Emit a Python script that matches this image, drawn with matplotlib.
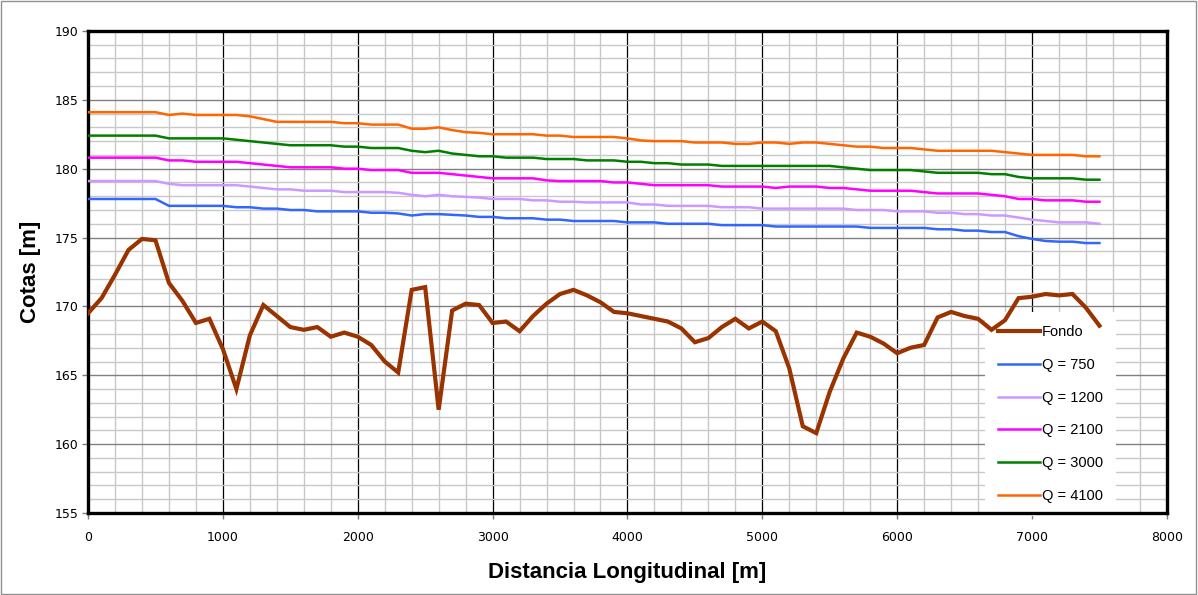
import matplotlib
matplotlib.use("Agg")
import matplotlib.pyplot as plt
from matplotlib.ticker import MultipleLocator
from matplotlib.patches import Rectangle

distancia = [
    0, 100, 200, 300, 400, 500, 600, 700, 800, 900,
    1000, 1100, 1200, 1300, 1400, 1500, 1600, 1700, 1800, 1900,
    2000, 2100, 2200, 2300, 2400, 2500, 2600, 2700, 2800, 2900,
    3000, 3100, 3200, 3300, 3400, 3500, 3600, 3700, 3800, 3900,
    4000, 4100, 4200, 4300, 4400, 4500, 4600, 4700, 4800, 4900,
    5000, 5100, 5200, 5300, 5400, 5500, 5600, 5700, 5800, 5900,
    6000, 6100, 6200, 6300, 6400, 6500, 6600, 6700, 6800, 6900,
    7000, 7100, 7200, 7300, 7400, 7500]

fondo = [
    169.5, 170.6, 172.3, 174.1, 174.9, 174.8, 171.7, 170.4, 168.8, 169.1,
    166.9, 164.0, 167.9, 170.1, 169.3, 168.5, 168.3, 168.5, 167.8, 168.1,
    167.8, 167.2, 166.0, 165.2, 171.2, 171.4, 162.5, 169.7, 170.2, 170.1,
    168.8, 168.9, 168.2, 169.3, 170.2, 170.9, 171.2, 170.8, 170.3, 169.6,
    169.5, 169.3, 169.1, 168.9, 168.4, 167.4, 167.7, 168.5, 169.1, 168.4,
    168.9, 168.2, 165.5, 161.3, 160.8, 163.8, 166.2, 168.1, 167.8, 167.3,
    166.6, 167.0, 167.2, 169.2, 169.6, 169.3, 169.1, 168.3, 169.0, 170.6,
    170.7, 170.9, 170.8, 170.9, 169.9, 168.6]

q750 = [
    177.8, 177.8, 177.8, 177.8, 177.8, 177.8, 177.3, 177.3, 177.3, 177.3,
    177.3, 177.2, 177.2, 177.1, 177.1, 177.0, 177.0, 176.9, 176.9, 176.9,
    176.9, 176.8, 176.8, 176.75, 176.6, 176.7, 176.7, 176.65, 176.6, 176.5,
    176.5, 176.4, 176.4, 176.4, 176.3, 176.3, 176.2, 176.2, 176.2, 176.2,
    176.1, 176.1, 176.1, 176.0, 176.0, 176.0, 176.0, 175.9, 175.9, 175.9,
    175.9, 175.8, 175.8, 175.8, 175.8, 175.8, 175.8, 175.8, 175.7, 175.7,
    175.7, 175.7, 175.7, 175.6, 175.6, 175.5, 175.5, 175.4, 175.4, 175.1,
    174.9, 174.75, 174.7, 174.7, 174.6, 174.6]

q1200 = [
    179.1, 179.1, 179.1, 179.1, 179.1, 179.1, 178.9, 178.8, 178.8, 178.8,
    178.8, 178.8, 178.7, 178.6, 178.5, 178.5, 178.4, 178.4, 178.4, 178.3,
    178.3, 178.3, 178.3, 178.25, 178.1, 178.0, 178.1, 178.0, 177.95, 177.9,
    177.8, 177.8, 177.8, 177.7, 177.7, 177.6, 177.6, 177.55, 177.55, 177.55,
    177.55, 177.4, 177.4, 177.3, 177.3, 177.3, 177.3, 177.2, 177.2, 177.2,
    177.1, 177.1, 177.1, 177.1, 177.1, 177.1, 177.1, 177.0, 177.0, 177.0,
    176.9, 176.9, 176.9, 176.8, 176.8, 176.7, 176.7, 176.6, 176.6, 176.45,
    176.3, 176.2, 176.1, 176.1, 176.1, 176.0]

q2100 = [
    180.8, 180.8, 180.8, 180.8, 180.8, 180.8, 180.6, 180.6, 180.5, 180.5,
    180.5, 180.5, 180.4, 180.3, 180.2, 180.1, 180.1, 180.1, 180.1, 180.0,
    180.0, 179.9, 179.9, 179.9, 179.7, 179.7, 179.7, 179.6, 179.5, 179.4,
    179.3, 179.3, 179.3, 179.3, 179.15, 179.1, 179.1, 179.1, 179.1, 179.0,
    179.0, 178.9, 178.8, 178.8, 178.8, 178.8, 178.8, 178.7, 178.7, 178.7,
    178.7, 178.6, 178.7, 178.7, 178.7, 178.6, 178.6, 178.5, 178.4, 178.4,
    178.4, 178.4, 178.3, 178.2, 178.2, 178.2, 178.2, 178.1, 178.0, 177.8,
    177.8, 177.7, 177.7, 177.7, 177.6, 177.6]

q3000 = [
    182.4, 182.4, 182.4, 182.4, 182.4, 182.4, 182.2, 182.2, 182.2, 182.2,
    182.2, 182.1, 182.0, 181.9, 181.8, 181.7, 181.7, 181.7, 181.7, 181.6,
    181.6, 181.5, 181.5, 181.5, 181.3, 181.2, 181.3, 181.1, 181.0, 180.9,
    180.9, 180.8, 180.8, 180.8, 180.7, 180.7, 180.7, 180.6, 180.6, 180.6,
    180.5, 180.5, 180.4, 180.4, 180.3, 180.3, 180.3, 180.2, 180.2, 180.2,
    180.2, 180.2, 180.2, 180.2, 180.2, 180.2, 180.1, 180.0, 179.9, 179.9,
    179.9, 179.9, 179.8, 179.7, 179.7, 179.7, 179.7, 179.6, 179.6, 179.4,
    179.3, 179.3, 179.3, 179.3, 179.2, 179.2]

q4100 = [
    184.1, 184.1, 184.1, 184.1, 184.1, 184.1, 183.9, 184.0, 183.9, 183.9,
    183.9, 183.9, 183.8, 183.6, 183.4, 183.4, 183.4, 183.4, 183.4, 183.3,
    183.3, 183.2, 183.2, 183.2, 182.9, 182.9, 183.0, 182.8, 182.65, 182.6,
    182.5, 182.5, 182.5, 182.5, 182.4, 182.4, 182.3, 182.3, 182.3, 182.3,
    182.2, 182.05, 182.0, 182.0, 182.0, 181.9, 181.9, 181.9, 181.8, 181.8,
    181.9, 181.9, 181.8, 181.9, 181.9, 181.8, 181.7, 181.6, 181.6, 181.5,
    181.5, 181.5, 181.4, 181.3, 181.3, 181.3, 181.3, 181.3, 181.2, 181.1,
    181.0, 181.0, 181.0, 181.0, 180.9, 180.9]

series_labels = ["Fondo", "Q = 750", "Q = 1200", "Q = 2100", "Q = 3000", "Q = 4100"]
series_colors = ["#993300", "#3366FF", "#CC99FF", "#FF00FF", "#008000", "#FF6600"]
series_widths = [3.0, 1.8, 1.8, 1.8, 1.8, 1.8]

x_ticks = [0, 1000, 2000, 3000, 4000, 5000, 6000, 7000, 8000]
y_ticks = [155, 160, 165, 170, 175, 180, 185, 190]

fig = plt.figure(figsize=(11.98, 5.95), dpi=100)
ax = fig.add_axes([0.0735, 0.1378, 0.9005, 0.8102])

series_values = [fondo, q750, q1200, q2100, q3000, q4100]
for vals, lab, col, lw in zip(series_values, series_labels, series_colors, series_widths):
    ax.plot(distancia, vals, color=col, lw=lw, label=lab, zorder=3,
            solid_joinstyle="miter")

ax.set_xlim(0, 8000)
ax.set_ylim(155, 190)
ax.set_xticks(x_ticks)
ax.set_yticks(y_ticks)
ax.xaxis.set_minor_locator(MultipleLocator(200))
ax.yaxis.set_minor_locator(MultipleLocator(1))
ax.set_axisbelow(True)
ax.grid(which="minor", axis="both", color="#C8C8C8", lw=1.0)
ax.grid(which="major", axis="y", color="#808080", lw=1.0)
ax.grid(which="major", axis="x", color="#000000", lw=0.9)
ax.tick_params(which="minor", length=0)
ax.tick_params(which="major", length=4, color="#808080", width=1)
ax.tick_params(axis="y", pad=3)
ax.tick_params(axis="x", pad=9)

for lab in ax.get_yticklabels():
    lab.set_fontfamily("DejaVu Sans")
    lab.set_fontsize(9)
for lab in ax.get_xticklabels():
    lab.set_fontfamily("DejaVu Sans")
    lab.set_fontsize(9)

for s in ax.spines.values():
    s.set_color("black")
    s.set_linewidth(2.4)

ax.set_ylabel("Cotas [m]", fontsize=16, fontweight="bold",
              family="Liberation Sans", labelpad=10)
ax.set_xlabel("Distancia Longitudinal [m]", fontsize=16, fontweight="bold",
              family="Liberation Sans", labelpad=13)

leg = ax.legend(loc="lower left", bbox_to_anchor=(0.831, -0.006),
                borderaxespad=0, frameon=True, fancybox=False,
                prop={"family": "Liberation Sans", "size": 10.5},
                handlelength=2.9, handletextpad=0.15, labelspacing=1.28,
                borderpad=0.9)
leg.get_frame().set_facecolor("white")
leg.get_frame().set_edgecolor("none")
leg.get_frame().set_alpha(1)
leg.set_zorder(1)

fig.patches.append(Rectangle((0.0005, 0.001), 0.998, 0.997, transform=fig.transFigure,
                             fill=False, edgecolor="#909090", lw=1))

fig.savefig("out.png", dpi=100)
